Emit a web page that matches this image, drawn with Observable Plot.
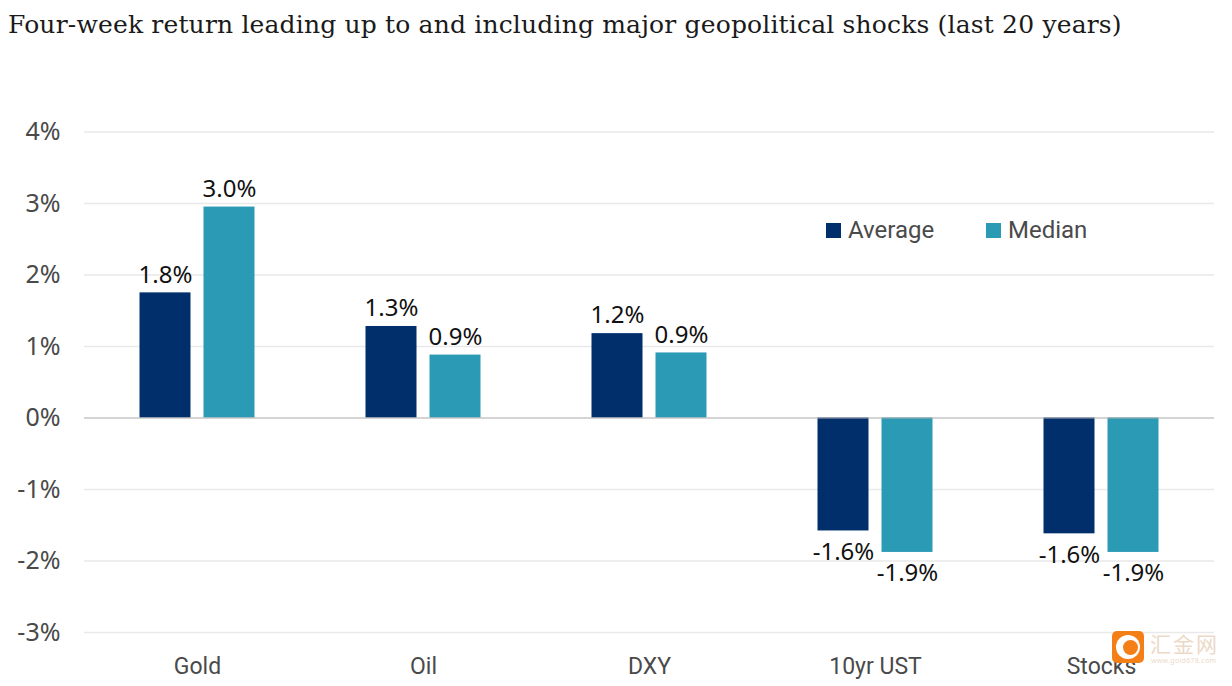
<!DOCTYPE html>
<html>
<head>
<meta charset="utf-8">
<script src="https://cdn.jsdelivr.net/npm/d3@7"></script>
<script src="https://cdn.jsdelivr.net/npm/@observablehq/plot@0.6"></script>
<style>
html,body{margin:0;padding:0;background:#fff;overflow:hidden}
#wrap{position:relative;width:1232px;height:686px}
#title{position:absolute;left:8px;top:10px;font:25px "DejaVu Serif",serif;color:#1a1a1a;white-space:nowrap;letter-spacing:.17px}
#chart{position:absolute;left:0;top:60px}
.lg{position:absolute;top:216px;font:24px Roboto,sans-serif;color:#4a4a4a;display:flex;align-items:center}
.lg i{display:inline-block;width:15px;height:15px;margin-right:7px}
#wm{position:absolute;left:1112px;top:631px;width:32px;height:32px;background:#f57f17;border-radius:5px;display:flex;align-items:center;justify-content:center}
#wm b{position:relative;display:block;width:24px;height:24px;border-radius:50%;background:#fff}
#wm b::after{content:"";position:absolute;left:7px;top:5px;width:15px;height:15px;border-radius:50%;background:#f57f17}
#wt{position:absolute;left:1150px;top:633px;font:21px "Noto Sans CJK SC",sans-serif;color:#ecd9c8;letter-spacing:2px;line-height:20px;height:20px}
#wu{position:absolute;left:1151px;top:656px;font:7px "Noto Sans",sans-serif;color:#ecd9c8;letter-spacing:.3px}
</style>
</head>
<body>
<div id="wrap">
<div id="title">Four-week return leading up to and including major geopolitical shocks (last 20 years)</div>
<div id="chart"></div>
<div class="lg" style="left:826px"><i style="background:#002f6c"></i><span>Average</span></div>
<div class="lg" style="left:986px"><i style="background:#2b9ab5"></i><span>Median</span></div>
<div id="wm"><b></b></div><div id="wt">汇金网</div><div id="wu">www.gold678.com</div>
</div>
<script>
const categories = ["Gold", "Oil", "DXY", "10yr UST", "Stocks"];
const seriesNames = ["Average", "Median"];
const averageValues = [1.75, 1.28, 1.18, -1.58, -1.62];
const medianValues = [2.95, 0.88, 0.91, -1.88, -1.88];
const averageLabels = ["1.8%", "1.3%", "1.2%", "-1.6%", "-1.6%"];
const medianLabels = ["3.0%", "0.9%", "0.9%", "-1.9%", "-1.9%"];
const yTicks = [-3, -2, -1, 0, 1, 2, 3, 4];
const seriesColors = ["#002f6c", "#2b9ab5"];

const rows = categories.flatMap((c, i) => [
  {category: c, series: seriesNames[0], value: averageValues[i], label: averageLabels[i]},
  {category: c, series: seriesNames[1], value: medianValues[i], label: medianLabels[i]}
]);

const font = '"Noto Sans", sans-serif';
const labelStyle = {fx: "category", x: "series", y: "value", text: "label", fill: "#111", fontSize: 24, fontFamily: font};
const chart = Plot.plot({
  width: 1232,
  height: 626,
  marginLeft: 83.5,
  marginRight: 18,
  marginTop: 71.5,
  marginBottom: 54,
  style: {background: "transparent", fontFamily: font},
  fx: {domain: categories, padding: 0, label: null, axis: null},
  x: {domain: seriesNames, paddingInner: 0.209, paddingOuter: 0.857, axis: null},
  y: {domain: [-3, 4], ticks: yTicks, label: null, axis: null},
  color: {domain: seriesNames, range: seriesColors},
  marks: [
    Plot.ruleY(yTicks.filter(d => d !== 0), {stroke: "#e9e9e9", strokeWidth: 1.5}),
    Plot.barY(rows, {fx: "category", x: "series", y: "value", fill: "series"}),
    Plot.ruleY([0], {stroke: "#a9a9a9", strokeWidth: 1.2}),
    Plot.text(rows.filter(d => d.value >= 0), {...labelStyle, dy: -18}),
    Plot.text(rows.filter(d => d.value < 0), {...labelStyle, dy: 21}),
    Plot.axisY({ticks: yTicks, tickSize: 0, tickPadding: 24, tickFormat: d => d + "%", fontSize: 25, fill: "#4a4a4a", label: null, fontFamily: font}),
    Plot.axisFx({domain: categories, anchor: "bottom", tickSize: 0, tickPadding: 25, fontSize: 23, fill: "#4a4a4a", label: null, fontFamily: "Roboto, sans-serif"})
  ]
});
document.getElementById("chart").append(chart);
</script>
</body>
</html>
